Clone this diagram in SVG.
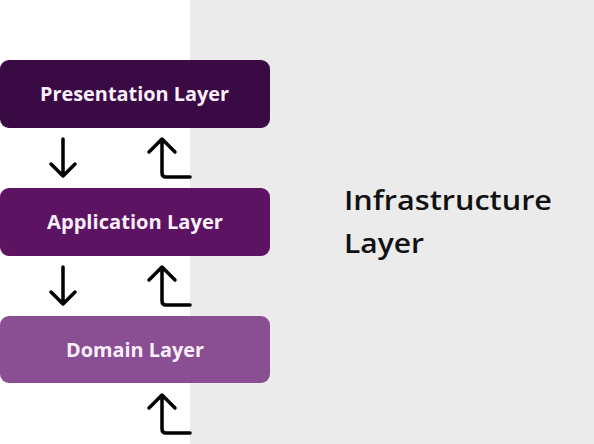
<svg xmlns="http://www.w3.org/2000/svg" width="594" height="444" viewBox="0 0 594 444">
<defs>
<style>
.lbl{font-family:"Open Sans","Inter","Liberation Sans",sans-serif;font-weight:700;font-size:19px;fill:#fbf0fb;text-anchor:middle}
.big{font-family:"Open Sans","Inter","Liberation Sans",sans-serif;font-weight:600;font-size:27px;fill:#111111}
.arr{fill:none;stroke:#000000;stroke-width:3.5;stroke-linecap:round;stroke-linejoin:round}
</style>
</defs>
<rect x="0" y="0" width="594" height="444" fill="#ffffff"/>
<g id="infrastructure">
<rect x="190" y="0" width="404" height="444" fill="#ebebeb"/>
<text class="big" x="344" y="209.5" textLength="208" lengthAdjust="spacingAndGlyphs">Infrastructure</text>
<text class="big" x="344" y="253" textLength="80" lengthAdjust="spacingAndGlyphs">Layer</text>
</g>
<g id="presentation">
<rect x="0" y="60" width="270" height="68" rx="9" fill="#3a0a45"/>
<text class="lbl" x="134.5" y="101" textLength="189" lengthAdjust="spacingAndGlyphs">Presentation Layer</text>
</g>
<g id="application">
<rect x="0" y="188" width="270" height="68" rx="9" fill="#5c1462"/>
<text class="lbl" x="135" y="229" textLength="176" lengthAdjust="spacingAndGlyphs">Application Layer</text>
</g>
<g id="domain">
<rect x="0" y="316" width="270" height="67" rx="9" fill="#8a4e93"/>
<text class="lbl" x="135" y="357" textLength="138" lengthAdjust="spacingAndGlyphs">Domain Layer</text>
</g>
<g id="connectors">
<path class="arr" d="M63 139 V176 M51 164 L63 176 L75 164"/>
<path class="arr" d="M190 177 H166 Q162 177 162 173 V140 M149 152 L162 139 L175 152"/>
<path class="arr" d="M63 267 V304 M51 292 L63 304 L75 292"/>
<path class="arr" d="M190 305 H166 Q162 305 162 301 V268 M149 280 L162 267 L175 280"/>
<path class="arr" d="M190 433 H166 Q162 433 162 429 V396 M149 408 L162 395 L175 408"/>
</g>
</svg>
